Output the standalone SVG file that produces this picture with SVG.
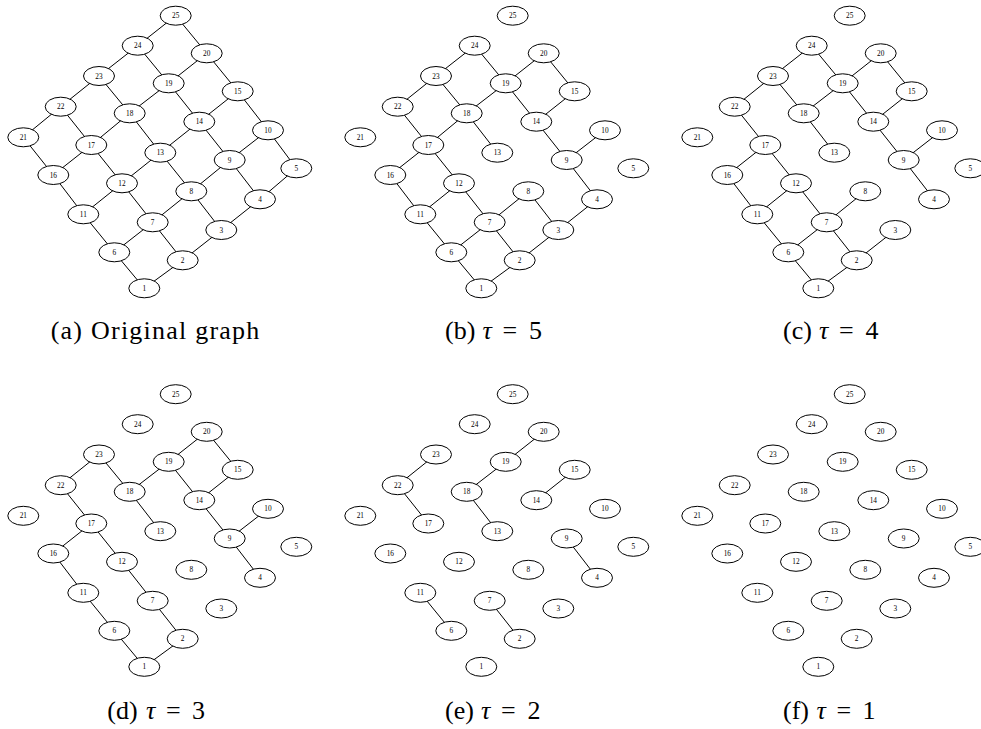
<svg xmlns="http://www.w3.org/2000/svg" width="981" height="729" viewBox="0 0 981 729">
<style>
.n{fill:#fff;stroke:#000;stroke-width:1}
.t{font-family:"Liberation Serif","Times New Roman",serif;font-size:7.3px;text-anchor:middle;fill:#000}
.e line{stroke:#000;stroke-width:1}
.cap{font-family:"Liberation Serif","Times New Roman",serif;font-size:26px;fill:#000}
.m{font-style:italic}
</style>
<rect width="981" height="729" fill="#fff"/>

<!-- Panel a -->
<g id="panel-a">
<g id="edges-a" class="e">
<line x1="144.3" y1="288.3" x2="182.7" y2="260.3"/><line x1="182.7" y1="260.3" x2="221.3" y2="230"/><line x1="221.3" y1="230" x2="260" y2="199.3"/><line x1="260" y1="199.3" x2="296.3" y2="168.3"/>
<line x1="114.3" y1="252.3" x2="152.7" y2="222.3"/><line x1="152.7" y1="222.3" x2="191.3" y2="191.3"/><line x1="191.3" y1="191.3" x2="229.7" y2="160"/><line x1="229.7" y1="160" x2="268" y2="130.3"/>
<line x1="83.3" y1="214.3" x2="122" y2="183.3"/><line x1="122" y1="183.3" x2="160.3" y2="152.7"/><line x1="160.3" y1="152.7" x2="199.3" y2="121.7"/><line x1="199.3" y1="121.7" x2="237.7" y2="91.3"/>
<line x1="53.3" y1="175" x2="91.3" y2="145"/><line x1="91.3" y1="145" x2="129.7" y2="113.3"/><line x1="129.7" y1="113.3" x2="168.7" y2="83.3"/><line x1="168.7" y1="83.3" x2="206.7" y2="53.3"/>
<line x1="23.3" y1="137.3" x2="60.7" y2="106.7"/><line x1="60.7" y1="106.7" x2="99" y2="76"/><line x1="99" y1="76" x2="137.7" y2="45.7"/><line x1="137.7" y1="45.7" x2="175.7" y2="15.7"/>
<line x1="144.3" y1="288.3" x2="114.3" y2="252.3"/><line x1="114.3" y1="252.3" x2="83.3" y2="214.3"/><line x1="83.3" y1="214.3" x2="53.3" y2="175"/><line x1="53.3" y1="175" x2="23.3" y2="137.3"/>
<line x1="182.7" y1="260.3" x2="152.7" y2="222.3"/><line x1="152.7" y1="222.3" x2="122" y2="183.3"/><line x1="122" y1="183.3" x2="91.3" y2="145"/><line x1="91.3" y1="145" x2="60.7" y2="106.7"/>
<line x1="221.3" y1="230" x2="191.3" y2="191.3"/><line x1="191.3" y1="191.3" x2="160.3" y2="152.7"/><line x1="160.3" y1="152.7" x2="129.7" y2="113.3"/><line x1="129.7" y1="113.3" x2="99" y2="76"/>
<line x1="260" y1="199.3" x2="229.7" y2="160"/><line x1="229.7" y1="160" x2="199.3" y2="121.7"/><line x1="199.3" y1="121.7" x2="168.7" y2="83.3"/><line x1="168.7" y1="83.3" x2="137.7" y2="45.7"/>
<line x1="296.3" y1="168.3" x2="268" y2="130.3"/><line x1="268" y1="130.3" x2="237.7" y2="91.3"/><line x1="237.7" y1="91.3" x2="206.7" y2="53.3"/><line x1="206.7" y1="53.3" x2="175.7" y2="15.7"/>
</g>
<g id="a1" transform="translate(144.3 288.3)"><ellipse class="n" rx="15.5" ry="9.5"/><text class="t" y="2.5">1</text></g>
<g id="a2" transform="translate(182.7 260.3)"><ellipse class="n" rx="15.5" ry="9.5"/><text class="t" y="2.5">2</text></g>
<g id="a3" transform="translate(221.3 230)"><ellipse class="n" rx="15.5" ry="9.5"/><text class="t" y="2.5">3</text></g>
<g id="a4" transform="translate(260 199.3)"><ellipse class="n" rx="15.5" ry="9.5"/><text class="t" y="2.5">4</text></g>
<g id="a5" transform="translate(296.3 168.3)"><ellipse class="n" rx="15.5" ry="9.5"/><text class="t" y="2.5">5</text></g>
<g id="a6" transform="translate(114.3 252.3)"><ellipse class="n" rx="15.5" ry="9.5"/><text class="t" y="2.5">6</text></g>
<g id="a7" transform="translate(152.7 222.3)"><ellipse class="n" rx="15.5" ry="9.5"/><text class="t" y="2.5">7</text></g>
<g id="a8" transform="translate(191.3 191.3)"><ellipse class="n" rx="15.5" ry="9.5"/><text class="t" y="2.5">8</text></g>
<g id="a9" transform="translate(229.7 160)"><ellipse class="n" rx="15.5" ry="9.5"/><text class="t" y="2.5">9</text></g>
<g id="a10" transform="translate(268 130.3)"><ellipse class="n" rx="15.5" ry="9.5"/><text class="t" y="2.5">10</text></g>
<g id="a11" transform="translate(83.3 214.3)"><ellipse class="n" rx="15.5" ry="9.5"/><text class="t" y="2.5">11</text></g>
<g id="a12" transform="translate(122 183.3)"><ellipse class="n" rx="15.5" ry="9.5"/><text class="t" y="2.5">12</text></g>
<g id="a13" transform="translate(160.3 152.7)"><ellipse class="n" rx="15.5" ry="9.5"/><text class="t" y="2.5">13</text></g>
<g id="a14" transform="translate(199.3 121.7)"><ellipse class="n" rx="15.5" ry="9.5"/><text class="t" y="2.5">14</text></g>
<g id="a15" transform="translate(237.7 91.3)"><ellipse class="n" rx="15.5" ry="9.5"/><text class="t" y="2.5">15</text></g>
<g id="a16" transform="translate(53.3 175)"><ellipse class="n" rx="15.5" ry="9.5"/><text class="t" y="2.5">16</text></g>
<g id="a17" transform="translate(91.3 145)"><ellipse class="n" rx="15.5" ry="9.5"/><text class="t" y="2.5">17</text></g>
<g id="a18" transform="translate(129.7 113.3)"><ellipse class="n" rx="15.5" ry="9.5"/><text class="t" y="2.5">18</text></g>
<g id="a19" transform="translate(168.7 83.3)"><ellipse class="n" rx="15.5" ry="9.5"/><text class="t" y="2.5">19</text></g>
<g id="a20" transform="translate(206.7 53.3)"><ellipse class="n" rx="15.5" ry="9.5"/><text class="t" y="2.5">20</text></g>
<g id="a21" transform="translate(23.3 137.3)"><ellipse class="n" rx="15.5" ry="9.5"/><text class="t" y="2.5">21</text></g>
<g id="a22" transform="translate(60.7 106.7)"><ellipse class="n" rx="15.5" ry="9.5"/><text class="t" y="2.5">22</text></g>
<g id="a23" transform="translate(99 76)"><ellipse class="n" rx="15.5" ry="9.5"/><text class="t" y="2.5">23</text></g>
<g id="a24" transform="translate(137.7 45.7)"><ellipse class="n" rx="15.5" ry="9.5"/><text class="t" y="2.5">24</text></g>
<g id="a25" transform="translate(175.7 15.7)"><ellipse class="n" rx="15.5" ry="9.5"/><text class="t" y="2.5">25</text></g>
</g>

<!-- Panel b -->
<g id="panel-b" transform="translate(337 0)">
<g id="edges-b" class="e">
<line x1="144.3" y1="288.3" x2="182.7" y2="260.3"/><line x1="182.7" y1="260.3" x2="221.3" y2="230"/><line x1="221.3" y1="230" x2="260" y2="199.3"/>
<line x1="114.3" y1="252.3" x2="152.7" y2="222.3"/><line x1="152.7" y1="222.3" x2="191.3" y2="191.3"/><line x1="229.7" y1="160" x2="268" y2="130.3"/>
<line x1="83.3" y1="214.3" x2="122" y2="183.3"/><line x1="199.3" y1="121.7" x2="237.7" y2="91.3"/>
<line x1="53.3" y1="175" x2="91.3" y2="145"/><line x1="91.3" y1="145" x2="129.7" y2="113.3"/><line x1="129.7" y1="113.3" x2="168.7" y2="83.3"/><line x1="168.7" y1="83.3" x2="206.7" y2="53.3"/>
<line x1="60.7" y1="106.7" x2="99" y2="76"/><line x1="99" y1="76" x2="137.7" y2="45.7"/>
<line x1="144.3" y1="288.3" x2="114.3" y2="252.3"/><line x1="114.3" y1="252.3" x2="83.3" y2="214.3"/><line x1="83.3" y1="214.3" x2="53.3" y2="175"/>
<line x1="182.7" y1="260.3" x2="152.7" y2="222.3"/><line x1="152.7" y1="222.3" x2="122" y2="183.3"/><line x1="122" y1="183.3" x2="91.3" y2="145"/><line x1="91.3" y1="145" x2="60.7" y2="106.7"/>
<line x1="221.3" y1="230" x2="191.3" y2="191.3"/><line x1="160.3" y1="152.7" x2="129.7" y2="113.3"/><line x1="129.7" y1="113.3" x2="99" y2="76"/>
<line x1="260" y1="199.3" x2="229.7" y2="160"/><line x1="229.7" y1="160" x2="199.3" y2="121.7"/><line x1="199.3" y1="121.7" x2="168.7" y2="83.3"/><line x1="168.7" y1="83.3" x2="137.7" y2="45.7"/>
<line x1="237.7" y1="91.3" x2="206.7" y2="53.3"/>
</g>
<g id="b1" transform="translate(144.3 288.3)"><ellipse class="n" rx="15.5" ry="9.5"/><text class="t" y="2.5">1</text></g>
<g id="b2" transform="translate(182.7 260.3)"><ellipse class="n" rx="15.5" ry="9.5"/><text class="t" y="2.5">2</text></g>
<g id="b3" transform="translate(221.3 230)"><ellipse class="n" rx="15.5" ry="9.5"/><text class="t" y="2.5">3</text></g>
<g id="b4" transform="translate(260 199.3)"><ellipse class="n" rx="15.5" ry="9.5"/><text class="t" y="2.5">4</text></g>
<g id="b5" transform="translate(296.3 168.3)"><ellipse class="n" rx="15.5" ry="9.5"/><text class="t" y="2.5">5</text></g>
<g id="b6" transform="translate(114.3 252.3)"><ellipse class="n" rx="15.5" ry="9.5"/><text class="t" y="2.5">6</text></g>
<g id="b7" transform="translate(152.7 222.3)"><ellipse class="n" rx="15.5" ry="9.5"/><text class="t" y="2.5">7</text></g>
<g id="b8" transform="translate(191.3 191.3)"><ellipse class="n" rx="15.5" ry="9.5"/><text class="t" y="2.5">8</text></g>
<g id="b9" transform="translate(229.7 160)"><ellipse class="n" rx="15.5" ry="9.5"/><text class="t" y="2.5">9</text></g>
<g id="b10" transform="translate(268 130.3)"><ellipse class="n" rx="15.5" ry="9.5"/><text class="t" y="2.5">10</text></g>
<g id="b11" transform="translate(83.3 214.3)"><ellipse class="n" rx="15.5" ry="9.5"/><text class="t" y="2.5">11</text></g>
<g id="b12" transform="translate(122 183.3)"><ellipse class="n" rx="15.5" ry="9.5"/><text class="t" y="2.5">12</text></g>
<g id="b13" transform="translate(160.3 152.7)"><ellipse class="n" rx="15.5" ry="9.5"/><text class="t" y="2.5">13</text></g>
<g id="b14" transform="translate(199.3 121.7)"><ellipse class="n" rx="15.5" ry="9.5"/><text class="t" y="2.5">14</text></g>
<g id="b15" transform="translate(237.7 91.3)"><ellipse class="n" rx="15.5" ry="9.5"/><text class="t" y="2.5">15</text></g>
<g id="b16" transform="translate(53.3 175)"><ellipse class="n" rx="15.5" ry="9.5"/><text class="t" y="2.5">16</text></g>
<g id="b17" transform="translate(91.3 145)"><ellipse class="n" rx="15.5" ry="9.5"/><text class="t" y="2.5">17</text></g>
<g id="b18" transform="translate(129.7 113.3)"><ellipse class="n" rx="15.5" ry="9.5"/><text class="t" y="2.5">18</text></g>
<g id="b19" transform="translate(168.7 83.3)"><ellipse class="n" rx="15.5" ry="9.5"/><text class="t" y="2.5">19</text></g>
<g id="b20" transform="translate(206.7 53.3)"><ellipse class="n" rx="15.5" ry="9.5"/><text class="t" y="2.5">20</text></g>
<g id="b21" transform="translate(23.3 137.3)"><ellipse class="n" rx="15.5" ry="9.5"/><text class="t" y="2.5">21</text></g>
<g id="b22" transform="translate(60.7 106.7)"><ellipse class="n" rx="15.5" ry="9.5"/><text class="t" y="2.5">22</text></g>
<g id="b23" transform="translate(99 76)"><ellipse class="n" rx="15.5" ry="9.5"/><text class="t" y="2.5">23</text></g>
<g id="b24" transform="translate(137.7 45.7)"><ellipse class="n" rx="15.5" ry="9.5"/><text class="t" y="2.5">24</text></g>
<g id="b25" transform="translate(175.7 15.7)"><ellipse class="n" rx="15.5" ry="9.5"/><text class="t" y="2.5">25</text></g>
</g>

<!-- Panel c -->
<g id="panel-c" transform="translate(674 0)">
<g id="edges-c" class="e">
<line x1="144.3" y1="288.3" x2="182.7" y2="260.3"/><line x1="182.7" y1="260.3" x2="221.3" y2="230"/>
<line x1="114.3" y1="252.3" x2="152.7" y2="222.3"/><line x1="152.7" y1="222.3" x2="191.3" y2="191.3"/><line x1="229.7" y1="160" x2="268" y2="130.3"/>
<line x1="83.3" y1="214.3" x2="122" y2="183.3"/><line x1="199.3" y1="121.7" x2="237.7" y2="91.3"/>
<line x1="53.3" y1="175" x2="91.3" y2="145"/><line x1="129.7" y1="113.3" x2="168.7" y2="83.3"/><line x1="168.7" y1="83.3" x2="206.7" y2="53.3"/>
<line x1="60.7" y1="106.7" x2="99" y2="76"/><line x1="99" y1="76" x2="137.7" y2="45.7"/>
<line x1="144.3" y1="288.3" x2="114.3" y2="252.3"/><line x1="114.3" y1="252.3" x2="83.3" y2="214.3"/><line x1="83.3" y1="214.3" x2="53.3" y2="175"/>
<line x1="182.7" y1="260.3" x2="152.7" y2="222.3"/><line x1="152.7" y1="222.3" x2="122" y2="183.3"/><line x1="122" y1="183.3" x2="91.3" y2="145"/><line x1="91.3" y1="145" x2="60.7" y2="106.7"/>
<line x1="160.3" y1="152.7" x2="129.7" y2="113.3"/><line x1="129.7" y1="113.3" x2="99" y2="76"/>
<line x1="260" y1="199.3" x2="229.7" y2="160"/><line x1="229.7" y1="160" x2="199.3" y2="121.7"/><line x1="199.3" y1="121.7" x2="168.7" y2="83.3"/><line x1="168.7" y1="83.3" x2="137.7" y2="45.7"/>
<line x1="237.7" y1="91.3" x2="206.7" y2="53.3"/>
</g>
<g id="c1" transform="translate(144.3 288.3)"><ellipse class="n" rx="15.5" ry="9.5"/><text class="t" y="2.5">1</text></g>
<g id="c2" transform="translate(182.7 260.3)"><ellipse class="n" rx="15.5" ry="9.5"/><text class="t" y="2.5">2</text></g>
<g id="c3" transform="translate(221.3 230)"><ellipse class="n" rx="15.5" ry="9.5"/><text class="t" y="2.5">3</text></g>
<g id="c4" transform="translate(260 199.3)"><ellipse class="n" rx="15.5" ry="9.5"/><text class="t" y="2.5">4</text></g>
<g id="c5" transform="translate(296.3 168.3)"><ellipse class="n" rx="15.5" ry="9.5"/><text class="t" y="2.5">5</text></g>
<g id="c6" transform="translate(114.3 252.3)"><ellipse class="n" rx="15.5" ry="9.5"/><text class="t" y="2.5">6</text></g>
<g id="c7" transform="translate(152.7 222.3)"><ellipse class="n" rx="15.5" ry="9.5"/><text class="t" y="2.5">7</text></g>
<g id="c8" transform="translate(191.3 191.3)"><ellipse class="n" rx="15.5" ry="9.5"/><text class="t" y="2.5">8</text></g>
<g id="c9" transform="translate(229.7 160)"><ellipse class="n" rx="15.5" ry="9.5"/><text class="t" y="2.5">9</text></g>
<g id="c10" transform="translate(268 130.3)"><ellipse class="n" rx="15.5" ry="9.5"/><text class="t" y="2.5">10</text></g>
<g id="c11" transform="translate(83.3 214.3)"><ellipse class="n" rx="15.5" ry="9.5"/><text class="t" y="2.5">11</text></g>
<g id="c12" transform="translate(122 183.3)"><ellipse class="n" rx="15.5" ry="9.5"/><text class="t" y="2.5">12</text></g>
<g id="c13" transform="translate(160.3 152.7)"><ellipse class="n" rx="15.5" ry="9.5"/><text class="t" y="2.5">13</text></g>
<g id="c14" transform="translate(199.3 121.7)"><ellipse class="n" rx="15.5" ry="9.5"/><text class="t" y="2.5">14</text></g>
<g id="c15" transform="translate(237.7 91.3)"><ellipse class="n" rx="15.5" ry="9.5"/><text class="t" y="2.5">15</text></g>
<g id="c16" transform="translate(53.3 175)"><ellipse class="n" rx="15.5" ry="9.5"/><text class="t" y="2.5">16</text></g>
<g id="c17" transform="translate(91.3 145)"><ellipse class="n" rx="15.5" ry="9.5"/><text class="t" y="2.5">17</text></g>
<g id="c18" transform="translate(129.7 113.3)"><ellipse class="n" rx="15.5" ry="9.5"/><text class="t" y="2.5">18</text></g>
<g id="c19" transform="translate(168.7 83.3)"><ellipse class="n" rx="15.5" ry="9.5"/><text class="t" y="2.5">19</text></g>
<g id="c20" transform="translate(206.7 53.3)"><ellipse class="n" rx="15.5" ry="9.5"/><text class="t" y="2.5">20</text></g>
<g id="c21" transform="translate(23.3 137.3)"><ellipse class="n" rx="15.5" ry="9.5"/><text class="t" y="2.5">21</text></g>
<g id="c22" transform="translate(60.7 106.7)"><ellipse class="n" rx="15.5" ry="9.5"/><text class="t" y="2.5">22</text></g>
<g id="c23" transform="translate(99 76)"><ellipse class="n" rx="15.5" ry="9.5"/><text class="t" y="2.5">23</text></g>
<g id="c24" transform="translate(137.7 45.7)"><ellipse class="n" rx="15.5" ry="9.5"/><text class="t" y="2.5">24</text></g>
<g id="c25" transform="translate(175.7 15.7)"><ellipse class="n" rx="15.5" ry="9.5"/><text class="t" y="2.5">25</text></g>
</g>

<!-- Panel d -->
<g id="panel-d" transform="translate(0 378.5)">
<g id="edges-d" class="e">
<line x1="144.3" y1="288.3" x2="182.7" y2="260.3"/><line x1="229.7" y1="160" x2="268" y2="130.3"/><line x1="199.3" y1="121.7" x2="237.7" y2="91.3"/>
<line x1="53.3" y1="175" x2="91.3" y2="145"/><line x1="129.7" y1="113.3" x2="168.7" y2="83.3"/><line x1="168.7" y1="83.3" x2="206.7" y2="53.3"/>
<line x1="60.7" y1="106.7" x2="99" y2="76"/>
<line x1="144.3" y1="288.3" x2="114.3" y2="252.3"/><line x1="114.3" y1="252.3" x2="83.3" y2="214.3"/><line x1="83.3" y1="214.3" x2="53.3" y2="175"/>
<line x1="182.7" y1="260.3" x2="152.7" y2="222.3"/><line x1="152.7" y1="222.3" x2="122" y2="183.3"/><line x1="122" y1="183.3" x2="91.3" y2="145"/><line x1="91.3" y1="145" x2="60.7" y2="106.7"/>
<line x1="160.3" y1="152.7" x2="129.7" y2="113.3"/><line x1="129.7" y1="113.3" x2="99" y2="76"/>
<line x1="260" y1="199.3" x2="229.7" y2="160"/><line x1="229.7" y1="160" x2="199.3" y2="121.7"/><line x1="199.3" y1="121.7" x2="168.7" y2="83.3"/>
<line x1="237.7" y1="91.3" x2="206.7" y2="53.3"/>
</g>
<g id="d1" transform="translate(144.3 288.3)"><ellipse class="n" rx="15.5" ry="9.5"/><text class="t" y="2.5">1</text></g>
<g id="d2" transform="translate(182.7 260.3)"><ellipse class="n" rx="15.5" ry="9.5"/><text class="t" y="2.5">2</text></g>
<g id="d3" transform="translate(221.3 230)"><ellipse class="n" rx="15.5" ry="9.5"/><text class="t" y="2.5">3</text></g>
<g id="d4" transform="translate(260 199.3)"><ellipse class="n" rx="15.5" ry="9.5"/><text class="t" y="2.5">4</text></g>
<g id="d5" transform="translate(296.3 168.3)"><ellipse class="n" rx="15.5" ry="9.5"/><text class="t" y="2.5">5</text></g>
<g id="d6" transform="translate(114.3 252.3)"><ellipse class="n" rx="15.5" ry="9.5"/><text class="t" y="2.5">6</text></g>
<g id="d7" transform="translate(152.7 222.3)"><ellipse class="n" rx="15.5" ry="9.5"/><text class="t" y="2.5">7</text></g>
<g id="d8" transform="translate(191.3 191.3)"><ellipse class="n" rx="15.5" ry="9.5"/><text class="t" y="2.5">8</text></g>
<g id="d9" transform="translate(229.7 160)"><ellipse class="n" rx="15.5" ry="9.5"/><text class="t" y="2.5">9</text></g>
<g id="d10" transform="translate(268 130.3)"><ellipse class="n" rx="15.5" ry="9.5"/><text class="t" y="2.5">10</text></g>
<g id="d11" transform="translate(83.3 214.3)"><ellipse class="n" rx="15.5" ry="9.5"/><text class="t" y="2.5">11</text></g>
<g id="d12" transform="translate(122 183.3)"><ellipse class="n" rx="15.5" ry="9.5"/><text class="t" y="2.5">12</text></g>
<g id="d13" transform="translate(160.3 152.7)"><ellipse class="n" rx="15.5" ry="9.5"/><text class="t" y="2.5">13</text></g>
<g id="d14" transform="translate(199.3 121.7)"><ellipse class="n" rx="15.5" ry="9.5"/><text class="t" y="2.5">14</text></g>
<g id="d15" transform="translate(237.7 91.3)"><ellipse class="n" rx="15.5" ry="9.5"/><text class="t" y="2.5">15</text></g>
<g id="d16" transform="translate(53.3 175)"><ellipse class="n" rx="15.5" ry="9.5"/><text class="t" y="2.5">16</text></g>
<g id="d17" transform="translate(91.3 145)"><ellipse class="n" rx="15.5" ry="9.5"/><text class="t" y="2.5">17</text></g>
<g id="d18" transform="translate(129.7 113.3)"><ellipse class="n" rx="15.5" ry="9.5"/><text class="t" y="2.5">18</text></g>
<g id="d19" transform="translate(168.7 83.3)"><ellipse class="n" rx="15.5" ry="9.5"/><text class="t" y="2.5">19</text></g>
<g id="d20" transform="translate(206.7 53.3)"><ellipse class="n" rx="15.5" ry="9.5"/><text class="t" y="2.5">20</text></g>
<g id="d21" transform="translate(23.3 137.3)"><ellipse class="n" rx="15.5" ry="9.5"/><text class="t" y="2.5">21</text></g>
<g id="d22" transform="translate(60.7 106.7)"><ellipse class="n" rx="15.5" ry="9.5"/><text class="t" y="2.5">22</text></g>
<g id="d23" transform="translate(99 76)"><ellipse class="n" rx="15.5" ry="9.5"/><text class="t" y="2.5">23</text></g>
<g id="d24" transform="translate(137.7 45.7)"><ellipse class="n" rx="15.5" ry="9.5"/><text class="t" y="2.5">24</text></g>
<g id="d25" transform="translate(175.7 15.7)"><ellipse class="n" rx="15.5" ry="9.5"/><text class="t" y="2.5">25</text></g>
</g>

<!-- Panel e -->
<g id="panel-e" transform="translate(337 378.5)">
<g id="edges-e" class="e">
<line x1="60.7" y1="106.7" x2="99" y2="76"/><line x1="91.3" y1="145" x2="60.7" y2="106.7"/>
<line x1="168.7" y1="83.3" x2="206.7" y2="53.3"/><line x1="129.7" y1="113.3" x2="168.7" y2="83.3"/>
<line x1="160.3" y1="152.7" x2="129.7" y2="113.3"/><line x1="199.3" y1="121.7" x2="237.7" y2="91.3"/>
<line x1="260" y1="199.3" x2="229.7" y2="160"/><line x1="114.3" y1="252.3" x2="83.3" y2="214.3"/>
<line x1="182.7" y1="260.3" x2="152.7" y2="222.3"/>
</g>
<g id="e1" transform="translate(144.3 288.3)"><ellipse class="n" rx="15.5" ry="9.5"/><text class="t" y="2.5">1</text></g>
<g id="e2" transform="translate(182.7 260.3)"><ellipse class="n" rx="15.5" ry="9.5"/><text class="t" y="2.5">2</text></g>
<g id="e3" transform="translate(221.3 230)"><ellipse class="n" rx="15.5" ry="9.5"/><text class="t" y="2.5">3</text></g>
<g id="e4" transform="translate(260 199.3)"><ellipse class="n" rx="15.5" ry="9.5"/><text class="t" y="2.5">4</text></g>
<g id="e5" transform="translate(296.3 168.3)"><ellipse class="n" rx="15.5" ry="9.5"/><text class="t" y="2.5">5</text></g>
<g id="e6" transform="translate(114.3 252.3)"><ellipse class="n" rx="15.5" ry="9.5"/><text class="t" y="2.5">6</text></g>
<g id="e7" transform="translate(152.7 222.3)"><ellipse class="n" rx="15.5" ry="9.5"/><text class="t" y="2.5">7</text></g>
<g id="e8" transform="translate(191.3 191.3)"><ellipse class="n" rx="15.5" ry="9.5"/><text class="t" y="2.5">8</text></g>
<g id="e9" transform="translate(229.7 160)"><ellipse class="n" rx="15.5" ry="9.5"/><text class="t" y="2.5">9</text></g>
<g id="e10" transform="translate(268 130.3)"><ellipse class="n" rx="15.5" ry="9.5"/><text class="t" y="2.5">10</text></g>
<g id="e11" transform="translate(83.3 214.3)"><ellipse class="n" rx="15.5" ry="9.5"/><text class="t" y="2.5">11</text></g>
<g id="e12" transform="translate(122 183.3)"><ellipse class="n" rx="15.5" ry="9.5"/><text class="t" y="2.5">12</text></g>
<g id="e13" transform="translate(160.3 152.7)"><ellipse class="n" rx="15.5" ry="9.5"/><text class="t" y="2.5">13</text></g>
<g id="e14" transform="translate(199.3 121.7)"><ellipse class="n" rx="15.5" ry="9.5"/><text class="t" y="2.5">14</text></g>
<g id="e15" transform="translate(237.7 91.3)"><ellipse class="n" rx="15.5" ry="9.5"/><text class="t" y="2.5">15</text></g>
<g id="e16" transform="translate(53.3 175)"><ellipse class="n" rx="15.5" ry="9.5"/><text class="t" y="2.5">16</text></g>
<g id="e17" transform="translate(91.3 145)"><ellipse class="n" rx="15.5" ry="9.5"/><text class="t" y="2.5">17</text></g>
<g id="e18" transform="translate(129.7 113.3)"><ellipse class="n" rx="15.5" ry="9.5"/><text class="t" y="2.5">18</text></g>
<g id="e19" transform="translate(168.7 83.3)"><ellipse class="n" rx="15.5" ry="9.5"/><text class="t" y="2.5">19</text></g>
<g id="e20" transform="translate(206.7 53.3)"><ellipse class="n" rx="15.5" ry="9.5"/><text class="t" y="2.5">20</text></g>
<g id="e21" transform="translate(23.3 137.3)"><ellipse class="n" rx="15.5" ry="9.5"/><text class="t" y="2.5">21</text></g>
<g id="e22" transform="translate(60.7 106.7)"><ellipse class="n" rx="15.5" ry="9.5"/><text class="t" y="2.5">22</text></g>
<g id="e23" transform="translate(99 76)"><ellipse class="n" rx="15.5" ry="9.5"/><text class="t" y="2.5">23</text></g>
<g id="e24" transform="translate(137.7 45.7)"><ellipse class="n" rx="15.5" ry="9.5"/><text class="t" y="2.5">24</text></g>
<g id="e25" transform="translate(175.7 15.7)"><ellipse class="n" rx="15.5" ry="9.5"/><text class="t" y="2.5">25</text></g>
</g>

<!-- Panel f -->
<g id="panel-f" transform="translate(674 378.5)">
<g id="edges-f" class="e"></g>
<g id="f1" transform="translate(144.3 288.3)"><ellipse class="n" rx="15.5" ry="9.5"/><text class="t" y="2.5">1</text></g>
<g id="f2" transform="translate(182.7 260.3)"><ellipse class="n" rx="15.5" ry="9.5"/><text class="t" y="2.5">2</text></g>
<g id="f3" transform="translate(221.3 230)"><ellipse class="n" rx="15.5" ry="9.5"/><text class="t" y="2.5">3</text></g>
<g id="f4" transform="translate(260 199.3)"><ellipse class="n" rx="15.5" ry="9.5"/><text class="t" y="2.5">4</text></g>
<g id="f5" transform="translate(296.3 168.3)"><ellipse class="n" rx="15.5" ry="9.5"/><text class="t" y="2.5">5</text></g>
<g id="f6" transform="translate(114.3 252.3)"><ellipse class="n" rx="15.5" ry="9.5"/><text class="t" y="2.5">6</text></g>
<g id="f7" transform="translate(152.7 222.3)"><ellipse class="n" rx="15.5" ry="9.5"/><text class="t" y="2.5">7</text></g>
<g id="f8" transform="translate(191.3 191.3)"><ellipse class="n" rx="15.5" ry="9.5"/><text class="t" y="2.5">8</text></g>
<g id="f9" transform="translate(229.7 160)"><ellipse class="n" rx="15.5" ry="9.5"/><text class="t" y="2.5">9</text></g>
<g id="f10" transform="translate(268 130.3)"><ellipse class="n" rx="15.5" ry="9.5"/><text class="t" y="2.5">10</text></g>
<g id="f11" transform="translate(83.3 214.3)"><ellipse class="n" rx="15.5" ry="9.5"/><text class="t" y="2.5">11</text></g>
<g id="f12" transform="translate(122 183.3)"><ellipse class="n" rx="15.5" ry="9.5"/><text class="t" y="2.5">12</text></g>
<g id="f13" transform="translate(160.3 152.7)"><ellipse class="n" rx="15.5" ry="9.5"/><text class="t" y="2.5">13</text></g>
<g id="f14" transform="translate(199.3 121.7)"><ellipse class="n" rx="15.5" ry="9.5"/><text class="t" y="2.5">14</text></g>
<g id="f15" transform="translate(237.7 91.3)"><ellipse class="n" rx="15.5" ry="9.5"/><text class="t" y="2.5">15</text></g>
<g id="f16" transform="translate(53.3 175)"><ellipse class="n" rx="15.5" ry="9.5"/><text class="t" y="2.5">16</text></g>
<g id="f17" transform="translate(91.3 145)"><ellipse class="n" rx="15.5" ry="9.5"/><text class="t" y="2.5">17</text></g>
<g id="f18" transform="translate(129.7 113.3)"><ellipse class="n" rx="15.5" ry="9.5"/><text class="t" y="2.5">18</text></g>
<g id="f19" transform="translate(168.7 83.3)"><ellipse class="n" rx="15.5" ry="9.5"/><text class="t" y="2.5">19</text></g>
<g id="f20" transform="translate(206.7 53.3)"><ellipse class="n" rx="15.5" ry="9.5"/><text class="t" y="2.5">20</text></g>
<g id="f21" transform="translate(23.3 137.3)"><ellipse class="n" rx="15.5" ry="9.5"/><text class="t" y="2.5">21</text></g>
<g id="f22" transform="translate(60.7 106.7)"><ellipse class="n" rx="15.5" ry="9.5"/><text class="t" y="2.5">22</text></g>
<g id="f23" transform="translate(99 76)"><ellipse class="n" rx="15.5" ry="9.5"/><text class="t" y="2.5">23</text></g>
<g id="f24" transform="translate(137.7 45.7)"><ellipse class="n" rx="15.5" ry="9.5"/><text class="t" y="2.5">24</text></g>
<g id="f25" transform="translate(175.7 15.7)"><ellipse class="n" rx="15.5" ry="9.5"/><text class="t" y="2.5">25</text></g>
</g>

<g id="captions">
<text class="cap" x="50.7" y="339" textLength="208.6" lengthAdjust="spacing">(a) Original graph</text>
<text class="cap" y="339"><tspan x="445">(b)</tspan><tspan class="m" x="482.5">τ</tspan><tspan x="502.5">=</tspan><tspan x="529">5</tspan></text>
<text class="cap" y="339"><tspan x="783">(c)</tspan><tspan class="m" x="819">τ</tspan><tspan x="839">=</tspan><tspan x="865.5">4</tspan></text>
<text class="cap" y="719"><tspan x="107.3">(d)</tspan><tspan class="m" x="146">τ</tspan><tspan x="166">=</tspan><tspan x="192">3</tspan></text>
<text class="cap" y="719"><tspan x="445">(e)</tspan><tspan class="m" x="481">τ</tspan><tspan x="501">=</tspan><tspan x="527.5">2</tspan></text>
<text class="cap" y="719"><tspan x="783">(f)</tspan><tspan class="m" x="816.5">τ</tspan><tspan x="836.5">=</tspan><tspan x="862.5">1</tspan></text>
</g>
</svg>
